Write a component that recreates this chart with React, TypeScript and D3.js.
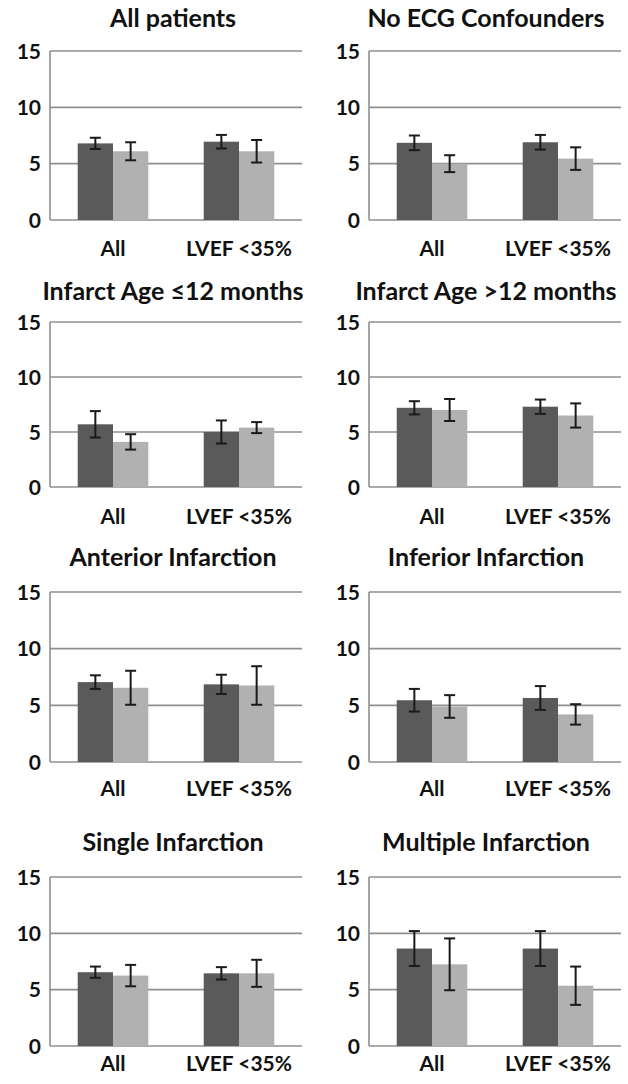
import React from "react";
import * as d3 from "d3";

const panelTitles = [
  "All patients",
  "No ECG Confounders",
  "Infarct Age ≤12 months",
  "Infarct Age >12 months",
  "Anterior Infarction",
  "Inferior Infarction",
  "Single Infarction",
  "Multiple Infarction",
];
const categories = ["All", "LVEF <35%"];
const yTicks = [0, 5, 10, 15];

// per panel: [All, LVEF <35%]
const darkMeans = [
  [6.8, 6.95], [6.85, 6.9], [5.7, 5.0], [7.2, 7.3],
  [7.05, 6.85], [5.45, 5.65], [6.55, 6.45], [8.65, 8.65],
];
const darkErrors = [
  [0.5, 0.6], [0.65, 0.65], [1.2, 1.05], [0.6, 0.65],
  [0.6, 0.85], [1.0, 1.05], [0.5, 0.55], [1.55, 1.55],
];
const lightMeans = [
  [6.1, 6.1], [5.0, 5.45], [4.1, 5.4], [7.0, 6.5],
  [6.55, 6.75], [4.9, 4.2], [6.25, 6.45], [7.25, 5.35],
];
const lightErrors = [
  [0.8, 1.0], [0.75, 1.0], [0.7, 0.5], [1.0, 1.1],
  [1.5, 1.7], [1.0, 0.9], [0.95, 1.2], [2.3, 1.7],
];

// layout
const W = 628;
const H = 1084;
const colLeft = [50, 369];
const colRight = [302, 621];
const titleShift = [-3, -9];
const rowTop = [51, 322, 592, 877];
const rowBottom = [220, 487, 762, 1046];
const titleBaseline = [27, 300, 566, 851];
const catBaseline = [256, 524, 796, 1071];

const DARK = "#5a5a5a";
const LIGHT = "#b1b1b1";
const GRID = "#8f8f8f";
const TEXT = "#111";
const FONT = "Lato, 'Open Sans', sans-serif";

function Panel({ idx }: { idx: number }) {
  const r = Math.floor(idx / 2);
  const c = idx % 2;
  const x0 = colLeft[c];
  const x1 = colRight[c];
  const y = d3.scaleLinear().domain([0, 15]).range([rowBottom[r], rowTop[r]]);
  const x = d3
    .scaleBand<string>()
    .domain(categories)
    .range([x0, x1])
    .paddingInner(0.44)
    .paddingOuter(0.22);
  const series = d3
    .scaleBand<string>()
    .domain(["dark", "light"])
    .range([0, x.bandwidth()])
    .padding(0);
  const bars = categories.flatMap((cat, i) => [
    { cat, s: "dark", v: darkMeans[idx][i], e: darkErrors[idx][i], fill: DARK },
    { cat, s: "light", v: lightMeans[idx][i], e: lightErrors[idx][i], fill: LIGHT },
  ]);
  const cap = 5.5;
  return (
    <g>
      <text
        x={(x0 + x1) / 2 + titleShift[c]}
        y={titleBaseline[r]}
        textAnchor="middle"
        fontFamily={FONT}
        fontWeight="bold"
        fontSize={25}
        fill={TEXT}
      >
        {panelTitles[idx]}
      </text>
      {yTicks.map((t) => (
        <g key={t}>
          <line x1={x0} x2={x1} y1={y(t)} y2={y(t)} stroke={GRID} strokeWidth={1.6} />
          <text
            x={x0 - 9}
            y={y(t)}
            dy="0.36em"
            textAnchor="end"
            fontFamily={FONT}
            fontWeight="bold"
            fontSize={21}
            fill={TEXT}
          >
            {t}
          </text>
        </g>
      ))}
      <line x1={x0} x2={x0} y1={y(15)} y2={y(0)} stroke={GRID} strokeWidth={1.6} />
      {bars.map((b, i) => {
        const bx = (x(b.cat) as number) + (series(b.s) as number);
        const bw = series.bandwidth();
        const cx = bx + bw / 2;
        return (
          <g key={i}>
            <rect x={bx} y={y(b.v)} width={bw} height={y(0) - y(b.v)} fill={b.fill} />
            <line x1={cx} x2={cx} y1={y(b.v + b.e)} y2={y(b.v - b.e)} stroke="#1a1a1a" strokeWidth={2} />
            <line x1={cx - cap} x2={cx + cap} y1={y(b.v + b.e)} y2={y(b.v + b.e)} stroke="#1a1a1a" strokeWidth={2} />
            <line x1={cx - cap} x2={cx + cap} y1={y(b.v - b.e)} y2={y(b.v - b.e)} stroke="#1a1a1a" strokeWidth={2} />
          </g>
        );
      })}
      {categories.map((cat) => (
        <text
          key={cat}
          x={(x(cat) as number) + x.bandwidth() / 2}
          y={catBaseline[r]}
          textAnchor="middle"
          fontFamily={FONT}
          fontWeight="bold"
          fontSize={21}
          fill={TEXT}
        >
          {cat}
        </text>
      ))}
    </g>
  );
}

export default function App() {
  return (
    <svg
      width={W}
      height={H}
      style={{ position: "absolute", left: 0, top: 0, background: "#fff" }}
    >
      <rect width={W} height={H} fill="#fff" />
      {panelTitles.map((_, i) => (
        <Panel key={i} idx={i} />
      ))}
    </svg>
  );
}
